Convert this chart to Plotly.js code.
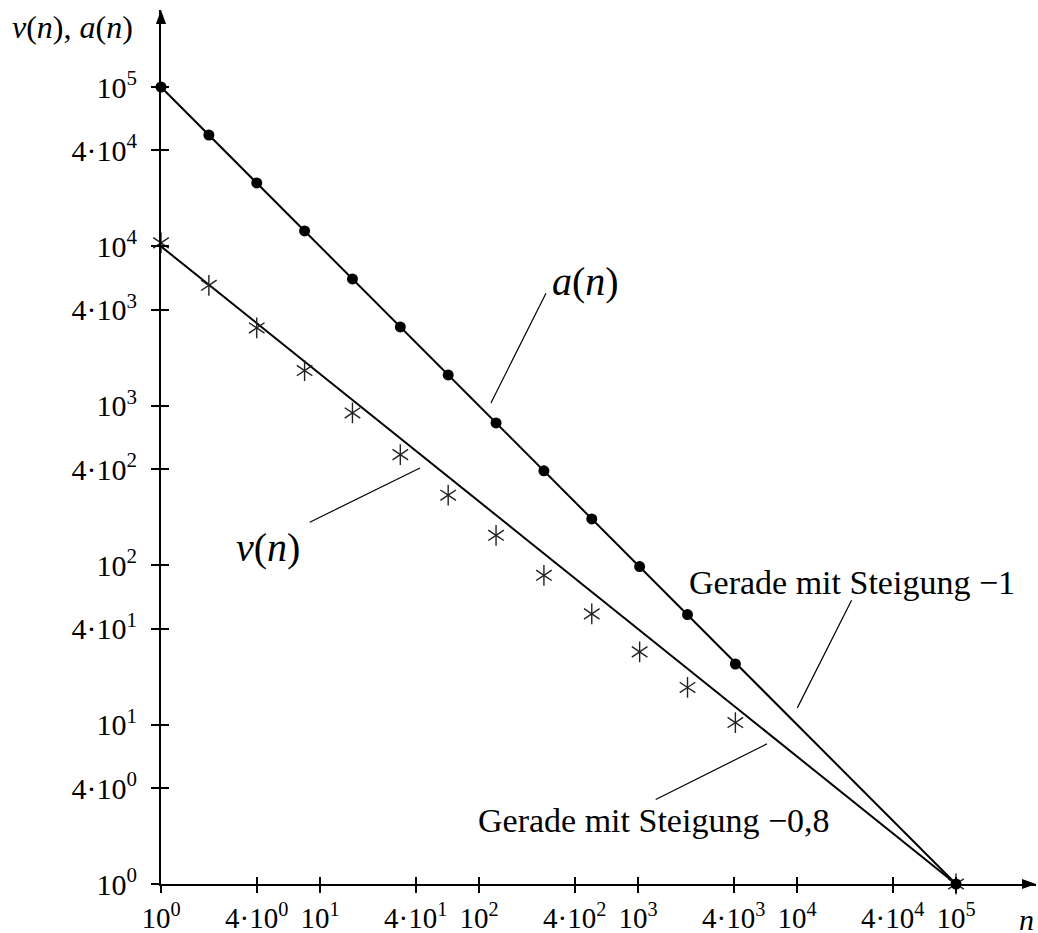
<!DOCTYPE html>
<html>
<head>
<meta charset="utf-8">
<script src="https://cdn.plot.ly/plotly-3.0.1.min.js"></script>
<style>
  html, body { margin: 0; padding: 0; background: #fff; }
  #chart { width: 1038px; height: 933px; }
</style>
</head>
<body>
<div id="chart"></div>
<script>
// Sample sizes n (powers of two, plus the end point 10^5)
const nVals = [1, 2, 4, 8, 16, 32, 64, 128, 256, 512, 1024, 2048, 4096, 100000];
// a(n) values
const aVals = [100000, 50000, 25000, 12500, 6250, 3125, 1563, 781, 391, 195, 98, 49, 24, 1];
// v(n) values
const vVals = [10520, 5700, 3080, 1663, 902, 494, 275, 154, 86.4, 49.5, 28.6, 17.1, 10.3, 1];

// Reference straight lines in the log-log plane
const lineN = [1, 100000];
const slopeMinus1 = [100000, 1];
const slopeMinus08 = [10000, 1];

// Axis ticks
const tickVals = [1, 4, 10, 40, 100, 400, 1000, 4000, 10000, 40000, 100000];
const tickText = ['10<sup>0</sup>', '4·10<sup>0</sup>', '10<sup>1</sup>', '4·10<sup>1</sup>',
  '10<sup>2</sup>', '4·10<sup>2</sup>', '10<sup>3</sup>', '4·10<sup>3</sup>',
  '10<sup>4</sup>', '4·10<sup>4</sup>', '10<sup>5</sup>'];

const FONT = 'Liberation Serif';
const INK = '#000';

const traces = [
  { x: lineN, y: slopeMinus1, mode: 'lines', line: { color: INK, width: 2 }, hoverinfo: 'skip' },
  { x: lineN, y: slopeMinus08, mode: 'lines', line: { color: INK, width: 2 }, hoverinfo: 'skip' },
  { x: nVals, y: vVals, mode: 'markers', cliponaxis: false,
    marker: { symbol: 'y-up-open', size: 13, color: '#222', line: { width: 1.4, color: '#222' } } },
  { x: nVals, y: vVals, mode: 'markers', cliponaxis: false,
    marker: { symbol: 'y-down-open', size: 13, color: '#222', line: { width: 1.4, color: '#222' } } },
  { x: nVals, y: aVals, mode: 'markers', cliponaxis: false,
    marker: { symbol: 'circle', size: 11, color: INK } },
  // carrier for the overlaid axes that draw the inner half of each tick
  { x: [1], y: [1], xaxis: 'x2', yaxis: 'y2', mode: 'markers',
    marker: { opacity: 0 }, hoverinfo: 'skip' }
];

// leader line helper (coordinates in log10 units on log axes)
function leader(x, y, ax, ay) {
  return { x: x, y: y, ax: ax, ay: ay, xref: 'x', yref: 'y', axref: 'x', ayref: 'y',
    text: '', showarrow: true, arrowhead: 0, arrowwidth: 1.2, arrowcolor: INK,
    standoff: 0, startstandoff: 0 };
}
function label(x, y, text, size) {
  return { x: x, y: y, xref: 'x', yref: 'y', text: text, showarrow: false,
    xanchor: 'center', yanchor: 'middle', font: { family: FONT, size: size, color: INK } };
}

const annotations = [
  label(2.667, 3.779, '<i>a</i>(<i>n</i>)', 40),
  leader(2.075, 3.018, 2.426, 3.715),
  label(0.673, 2.110, '<i>v</i>(<i>n</i>)', 40),
  leader(1.629, 2.610, 0.926, 2.265),
  label(4.346, 1.891, 'Gerade mit Steigung −1', 34),
  leader(4.002, 1.105, 4.348, 1.789),
  label(3.101, 0.398, 'Gerade mit Steigung −0,8', 34),
  leader(3.811, 0.879, 3.102, 0.525),
  { x: -0.1017, y: 0.9805, xref: 'paper', yref: 'paper', text: '<i>v</i>(<i>n</i>), <i>a</i>(<i>n</i>)',
    showarrow: false, xanchor: 'center', yanchor: 'middle', font: { family: FONT, size: 32, color: INK } },
  { x: 0.9897, y: -0.041, xref: 'paper', yref: 'paper', text: '<i>n</i>',
    showarrow: false, xanchor: 'center', yanchor: 'middle', font: { family: FONT, size: 30, color: INK } }
];

// arrow heads at the ends of both axes
const shapes = [
  { type: 'path', xref: 'paper', yref: 'paper', path: 'M1,0 L0.984,0.0058 L0.984,-0.0058 Z',
    fillcolor: INK, line: { width: 0 } },
  { type: 'path', xref: 'paper', yref: 'paper', path: 'M0,1 L0.0058,0.984 L-0.0058,0.984 Z',
    fillcolor: INK, line: { width: 0 } }
];

const baseAxis = {
  type: 'log', showgrid: false, zeroline: false, showline: true, linecolor: INK, linewidth: 2,
  tickmode: 'array', tickvals: tickVals, ticktext: tickText, tickcolor: INK, tickwidth: 2,
  fixedrange: true
};

const layout = {
  width: 1038, height: 933,
  margin: { l: 161, r: 2, t: 10, b: 49 },
  paper_bgcolor: '#fff', plot_bgcolor: '#fff',
  showlegend: false,
  xaxis: Object.assign({}, baseAxis, { range: [0, 5.5031], ticks: 'outside', ticklen: 7, ticklabelstandoff: 0,
    tickfont: { family: FONT, size: 29, color: INK } }),
  yaxis: Object.assign({}, baseAxis, { range: [0, 5.4831], ticks: 'outside', ticklen: 8, ticklabelstandoff: 8,
    tickfont: { family: FONT, size: 30, color: INK } }),
  xaxis2: { type: 'log', overlaying: 'x', matches: 'x', anchor: 'y2', showgrid: false, zeroline: false,
    showline: false, tickmode: 'array', tickvals: tickVals, ticks: 'inside', ticklen: 7, tickwidth: 2,
    tickcolor: INK, showticklabels: false, fixedrange: true },
  yaxis2: { type: 'log', overlaying: 'y', matches: 'y', anchor: 'x2', showgrid: false, zeroline: false,
    showline: false, tickmode: 'array', tickvals: tickVals, ticks: 'inside', ticklen: 8, tickwidth: 2,
    tickcolor: INK, showticklabels: false, fixedrange: true },
  annotations: annotations,
  shapes: shapes
};

const config = { displayModeBar: false };

function draw() {
  return Plotly.react('chart', traces, layout, config);
}

draw();
// redraw once the serif faces are ready so text is measured with them
if (document.fonts && document.fonts.load) {
  Promise.all([
    document.fonts.load('30px "Liberation Serif"'),
    document.fonts.load('italic 30px "Liberation Serif"')
  ]).then(draw, draw);
}
</script>
</body>
</html>
